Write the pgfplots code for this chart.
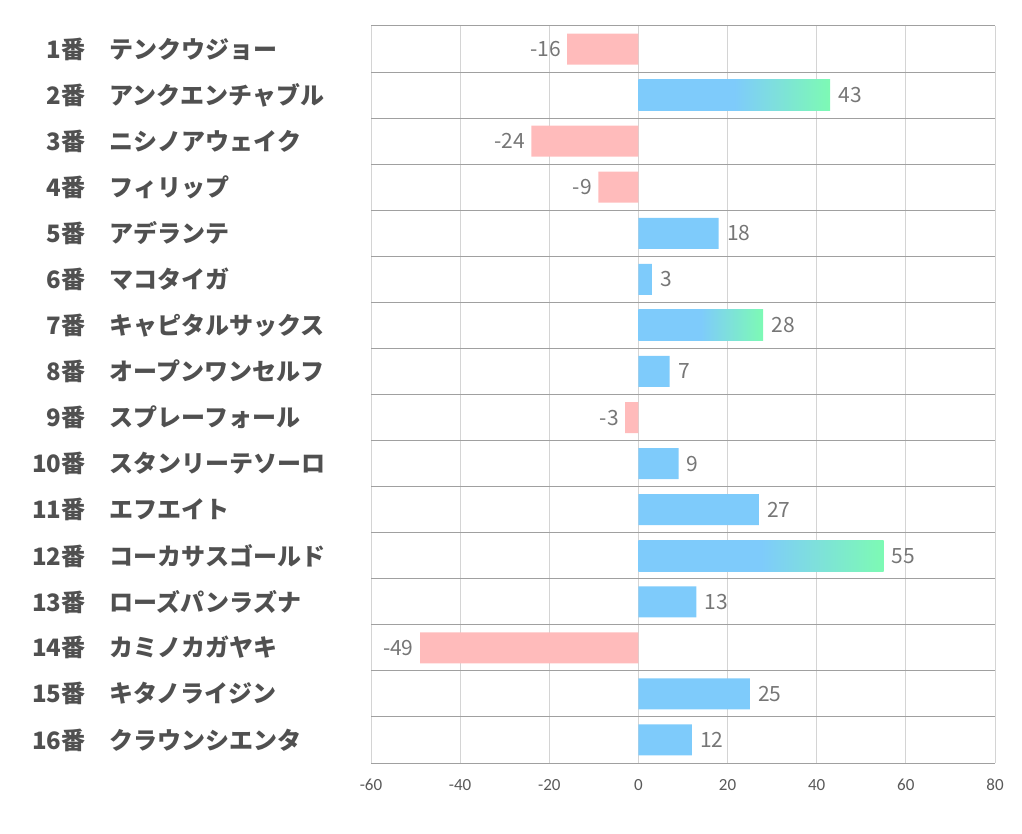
\documentclass[border=0pt]{standalone}
\usepackage{fontspec}
\usepackage{pgfplots}
\pgfplotsset{compat=1.18}
\setmainfont{Noto Sans CJK JP}
\newfontfamily\tickfont{Carlito}
\definecolor{barblue}{RGB}{126,203,251}
\definecolor{bargreen}{RGB}{125,250,180}
\definecolor{barpink}{RGB}{255,187,187}
\definecolor{labgray}{RGB}{80,80,80}
\definecolor{valgray}{RGB}{118,118,118}
\definecolor{tickgray}{RGB}{89,89,89}
\definecolor{vgrid}{RGB}{212,212,212}
\definecolor{hgrid}{RGB}{160,160,160}
\pgfdeclarehorizontalshading{bluegreen}{100bp}{color(0bp)=(barblue); color(25bp)=(barblue); color(50bp)=(barblue); color(75bp)=(bargreen); color(100bp)=(bargreen)}
\newcommand{\lab}[2]{\makebox[30pt][r]{\bfseries #1番}\hspace{12pt}\makebox[130.5pt][l]{\bfseries #2}}
\begin{document}
\begin{tikzpicture}
\useasboundingbox (0,0) rectangle (511pt,417pt);
\begin{axis}[
  at={(185.5pt,35.5pt)}, anchor=south west,
  scale only axis, width=312pt, height=368.5pt,
  clip=false,
  xmin=-60, xmax=80, ymin=0.5, ymax=16.5,
  y dir=reverse,
  xtick={-60,-40,...,80},
  ytick={1,...,16},
  extra y ticks={0.5,1.5,2.5,3.5,4.5,5.5,6.5,7.5,8.5,9.5,10.5,11.5,12.5,13.5,14.5,15.5,16.5},
  extra y tick labels={},
  extra y tick style={grid=major, major grid style={hgrid, line width=0.5pt}},
  xmajorgrids,
  major x grid style={vgrid, line width=0.5pt},
  axis line style={draw=none},
  tick style={draw=none},
  major tick length=0pt, minor tick length=0pt,
  /pgf/number format/assume math mode=true,
  xticklabel style={font=\tickfont\fontsize{8.5}{9}\selectfont, text=tickgray, yshift=-4.5pt},
  yticklabel style={font=\fontsize{12}{14}\selectfont, text=labgray, anchor=east, inner sep=0pt},
  yticklabels={\lab{1}{テンクウジョー},\lab{2}{アンクエンチャブル},\lab{3}{ニシノアウェイク},\lab{4}{フィリップ},\lab{5}{アデランテ},\lab{6}{マコタイガ},\lab{7}{キャピタルサックス},\lab{8}{オープンワンセルフ},\lab{9}{スプレーフォール},\lab{10}{スタンリーテソーロ},\lab{11}{エフエイト},\lab{12}{コーカサスゴールド},\lab{13}{ローズパンラズナ},\lab{14}{カミノカガヤキ},\lab{15}{キタノライジン},\lab{16}{クラウンシエンタ}},
  xbar, bar width=15.5pt, bar shift=0pt,
  nodes near coords, point meta=x,
  every node near coord/.append style={font=\fontsize{10.5}{12}\selectfont, text=valgray},
]
\addplot[draw=none, fill=barpink, nodes near coords style={anchor=east, inner sep=3pt}] coordinates {
(-16,1) (-24,3) (-9,4) (-3,9) (-49,14)};
\addplot[draw=none, fill=barblue, nodes near coords style={anchor=west, inner sep=4pt}] coordinates {
(18,5) (3,6) (7,8) (9,10) (27,11) (13,13) (25,15) (12,16)};
\addplot[draw=none, shading=bluegreen, nodes near coords style={anchor=west, inner sep=4pt}] coordinates {(43,2)};
\addplot[draw=none, shading=bluegreen, nodes near coords style={anchor=west, inner sep=4pt}] coordinates {(28,7)};
\addplot[draw=none, shading=bluegreen, nodes near coords style={anchor=west, inner sep=4pt}] coordinates {(55,12)};
\end{axis}
\end{tikzpicture}
\end{document}
